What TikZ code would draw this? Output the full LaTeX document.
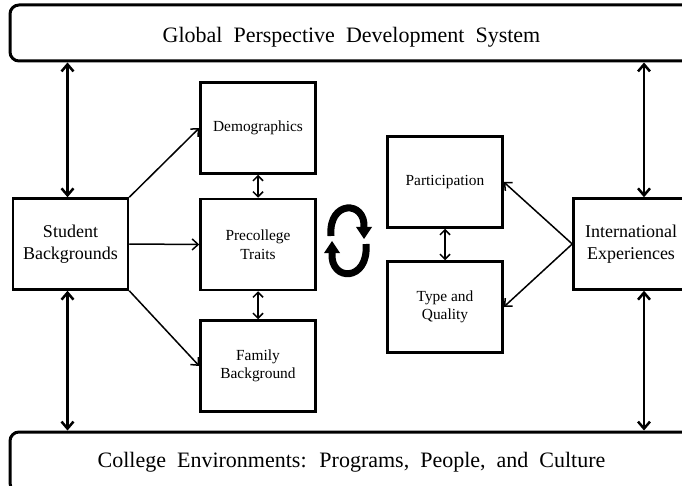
\documentclass[tikz,border=0pt]{standalone}
\usepackage{fontspec}
\setmainfont{Liberation Serif}
\usetikzlibrary{arrows.meta}
\begin{document}
\begin{tikzpicture}[x=1pt,y=-1pt,
  box/.style={draw, line width=2.5pt, minimum width=115pt, minimum height=91pt, align=center, inner sep=0pt, font=\fontsize{15.4}{18.5}\selectfont},
  bigbox/.style={box, font=\fontsize{18}{22}\selectfont},
  banner/.style={draw, line width=3pt, rounded corners=9pt, minimum width=683pt, inner sep=0pt, font=\fontsize{22}{26}\selectfont},
  thinarrow/.style={line width=1.5pt, -{Straight Barb[length=6pt,width=11pt]}},
  dblarrow/.style={line width=1.5pt, {Straight Barb[length=5pt,width=10pt]}-{Straight Barb[length=5pt,width=10pt]}},
  vlink/.style={line width=2.5pt, {Straight Barb[length=7pt,width=12pt]}-{Straight Barb[length=7pt,width=12pt]}},
  cyc/.style={line width=7pt}
]
\useasboundingbox (0,0) rectangle (682,486);
\clip (0,0) rectangle (682,486);
\fill[white] (0,0) rectangle (682,486);

\node[banner, minimum height=56pt, text height=24pt] (top) at (351.5,33) {\spaceskip=11pt Global Perspective Development System};
\node[banner, minimum height=60pt] (bot) at (351.5,462) {\spaceskip=11pt College Environments: Programs, People, and Culture};

\node[bigbox] (stu) at (70.5,244) {Student\\Backgrounds};
\node[box] (demo) at (258,128) {Demographics};
\node[box] (pre) at (258,244.5) {Precollege\\Traits};
\node[box] (fam) at (258,366) {Family\\Background};
\node[box] (part) at (445,182) {Participation};
\node[box] (type) at (445,307) {Type and\\Quality};
\node[bigbox] (intl) at (631,244) {International\\Experiences};

\draw[vlink] ([xshift=-3pt]stu.north |- top.south) -- ([xshift=-3pt]stu.north);
\draw[vlink] ([xshift=-3pt]stu.south) -- ([xshift=-3pt]stu.south |- bot.north);
\draw[vlink] ([xshift=13pt]intl.north |- top.south) -- ([xshift=13pt]intl.north);
\draw[vlink] ([xshift=13pt]intl.south) -- ([xshift=13pt]intl.south |- bot.north);

\draw[thinarrow] (stu.north east) -- (demo.west);
\draw[thinarrow] (stu.east) -- (pre.west);
\draw[thinarrow] (stu.south east) -- (fam.west);
\draw[thinarrow] (intl.west) -- (part.east);
\draw[thinarrow] (intl.west) -- (type.east);

\draw[dblarrow] (demo.south) -- (pre.north);
\draw[dblarrow] (pre.south) -- (fam.north);
\draw[dblarrow] (part.south) -- (type.north);

% cycle arrows
\draw[cyc] (331,236) .. controls (328,200) and (366,200) .. (364,228);
\fill (356,227) -- (372,227) -- (364,239) -- cycle;
\draw[cyc] (366,244) .. controls (369,282) and (330,282) .. (332,253);
\fill (324,253) -- (340,253) -- (332,241) -- cycle;
\end{tikzpicture}
\end{document}
